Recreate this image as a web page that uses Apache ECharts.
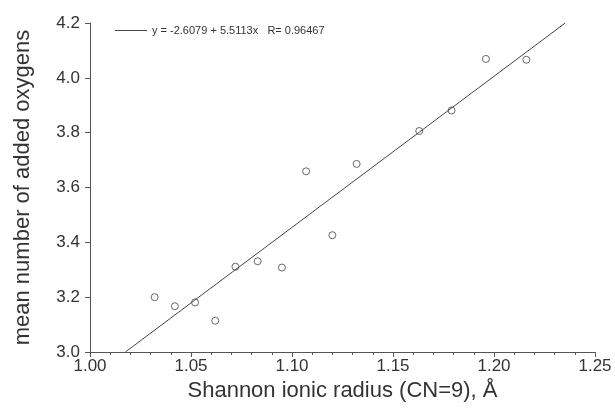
<!DOCTYPE html>
<html>
<head>
<meta charset="utf-8">
<script src="https://cdn.jsdelivr.net/npm/echarts@6/dist/echarts.min.js"></script>
<style>
  html, body { margin: 0; padding: 0; background: #fff; }
  #myChart { width: 615px; height: 409px; }
</style>
</head>
<body>
<div id="myChart"></div>
<script>
// ionic radius (CN=9) and mean number of added oxygens
var radius = [1.032, 1.042, 1.052, 1.062, 1.072, 1.083, 1.095, 1.107, 1.120, 1.132, 1.163, 1.179, 1.196, 1.216];
var oxygens = [3.200, 3.167, 3.181, 3.114, 3.311, 3.331, 3.308, 3.659, 3.426, 3.686, 3.806, 3.881, 4.069, 4.066];

// linear fit from the legend
var fitIntercept = -2.6079;
var fitSlope = 5.5113;
var fitR = 0.96467;
var fitYRange = [3.0, 4.2];

var fitName = 'y = ' + fitIntercept + ' + ' + fitSlope + 'x   R= ' + fitR;
var fitLine = fitYRange.map(function (y) {
    return [(y - fitIntercept) / fitSlope, y];
});

var myChart = echarts.init(document.getElementById('myChart'));
var font = 'Liberation Sans, Arial, sans-serif';

myChart.setOption({
    animation: false,
    backgroundColor: '#fff',
    grid: {
        left: 90,
        right: 20,
        top: 23,
        bottom: 57
    },
    legend: {
        data: [{ name: fitName, icon: 'rect' }],
        left: 110,
        top: 20,
        itemWidth: 32,
        itemHeight: 1,
        itemGap: 4,
        textStyle: {
            fontFamily: font,
            fontSize: 11,
            color: '#333'
        }
    },
    xAxis: {
        type: 'value',
        min: 1.0,
        max: 1.25,
        interval: 0.05,
        name: 'Shannon ionic radius (CN=9), \u00c5',
        nameLocation: 'middle',
        nameGap: 28,
        nameTextStyle: {
            fontFamily: font,
            fontSize: 22,
            color: '#333'
        },
        axisLine: {
            onZero: false,
            lineStyle: { color: '#555', width: 1 }
        },
        axisTick: {
            inside: false,
            length: 5,
            lineStyle: { color: '#555' }
        },
        minorTick: {
            show: true,
            splitNumber: 5,
            length: 3,
            lineStyle: { color: '#555' }
        },
        axisLabel: {
            fontFamily: font,
            fontSize: 17,
            color: '#333',
            margin: 6,
            formatter: function (v) { return v.toFixed(2); }
        },
        splitLine: { show: false }
    },
    yAxis: {
        type: 'value',
        min: 3.0,
        max: 4.2,
        interval: 0.2,
        name: 'mean number of added oxygens',
        nameLocation: 'middle',
        nameGap: 56,
        nameTextStyle: {
            fontFamily: font,
            fontSize: 22,
            color: '#333'
        },
        axisLine: {
            show: true,
            onZero: false,
            lineStyle: { color: '#555', width: 1 }
        },
        axisTick: {
            show: true,
            inside: false,
            length: 5,
            lineStyle: { color: '#555' }
        },
        axisLabel: {
            fontFamily: font,
            fontSize: 17,
            color: '#333',
            margin: 10,
            formatter: function (v) { return v.toFixed(1); }
        },
        splitLine: { show: false }
    },
    series: [
        {
            name: 'data',
            type: 'scatter',
            data: radius.map(function (r, i) { return [r, oxygens[i]]; }),
            symbol: 'circle',
            symbolSize: 7,
            itemStyle: {
                color: '#fff',
                borderColor: '#444',
                borderWidth: 1
            }
        },
        {
            name: fitName,
            type: 'line',
            data: fitLine,
            symbol: 'none',
            lineStyle: { color: '#444', width: 1 },
            itemStyle: { color: '#444' }
        }
    ]
});
</script>
</body>
</html>
